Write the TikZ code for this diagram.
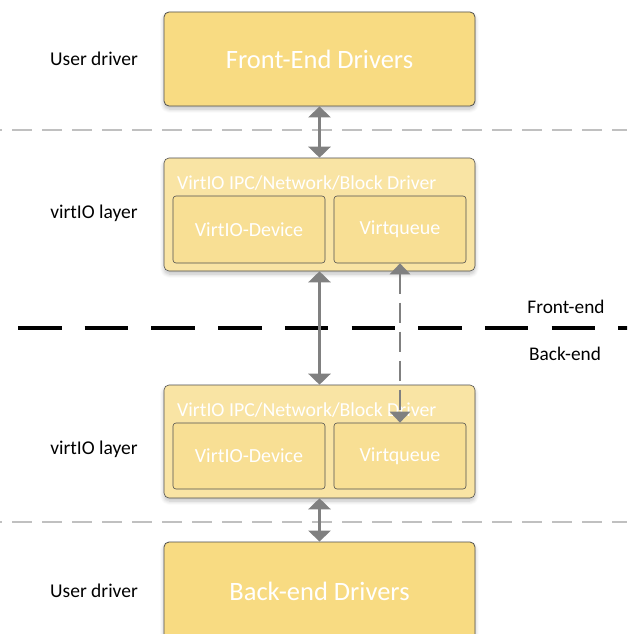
\documentclass[tikz,border=0pt]{standalone}
\usepackage{fontspec}
\setmainfont{Carlito}
\usetikzlibrary{arrows.meta,shadows.blur}
\definecolor{outerfill}{HTML}{F8DB82}
\definecolor{layerfill}{HTML}{F9E4A4}
\definecolor{innerfill}{HTML}{F8DF94}
\definecolor{edge}{HTML}{505050}
\definecolor{arrgray}{HTML}{808080}
\definecolor{sepgray}{HTML}{C0C0C0}
\tikzset{
  bigbox/.style={draw=edge, line width=0.8pt, rounded corners=5pt, fill=outerfill,
    minimum width=311pt, text=white, font=\fontsize{26.5}{30}\selectfont,
    blur shadow={shadow xshift=0pt, shadow yshift=-3pt, shadow blur steps=6, shadow opacity=25, shadow blur radius=4pt}},
  layerbox/.style={draw=edge, line width=0.6pt, rounded corners=5pt, fill=layerfill,
    minimum width=311pt, minimum height=113pt,
    blur shadow={shadow xshift=0pt, shadow yshift=-3pt, shadow blur steps=6, shadow opacity=25, shadow blur radius=4pt}},
  innerbox/.style={draw=edge, line width=0.6pt, rounded corners=3pt, fill=innerfill,
    minimum height=67pt, text=white, font=\fontsize{20}{24}\selectfont},
  titletext/.style={text=white, font=\fontsize{19.8}{24}\selectfont, anchor=west, inner sep=0pt},
  sidelabel/.style={font=\fontsize{19.5}{23}\selectfont, text=black},
  endlabel/.style={font=\fontsize{19.3}{23}\selectfont, text=black},
  arr/.style={draw=arrgray, line width=3pt, {Triangle[width=22pt,length=11pt]}-{Triangle[width=22pt,length=11pt]}},
  dasharr/.style={draw=arrgray, line width=2.8pt, dash pattern=on 20pt off 9pt, {Triangle[width=20pt,length=11pt]}-{Triangle[width=20pt,length=11pt]}},
  sepline/.style={draw=sepgray, line width=2.5pt, dash pattern=on 20pt off 10pt, dash phase=18pt},
  midline/.style={draw=black, line width=3.5pt, dash pattern=on 43.5pt off 23.2pt}
}
\begin{document}
\begin{tikzpicture}[x=1pt,y=-1pt]
\useasboundingbox (0,0) rectangle (627,634);
\begin{scope}
\clip (0,0) rectangle (627,634);
% separators
\coordinate (s1l) at (0,130); \coordinate (s1r) at (627,130);
\coordinate (s2l) at (0,522); \coordinate (s2r) at (627,522);
\coordinate (ml) at (18,328); \coordinate (mr) at (640,328);
\draw[sepline] (s1l) -- (s1r);
\draw[sepline] (s2l) -- (s2r);
\draw[midline] (ml) -- (mr);

% front-end
\node[bigbox, minimum height=94pt] (FE) at (319.5,59) {Front-End Drivers};
% top layer
\node[layerbox] (L1) at (319.5,214.5) {};
\node[titletext] (T1) at (177,183) {VirtIO IPC/Network/Block Driver};
\node[innerbox, minimum width=152pt] (D1) at (249,229.5) {VirtIO-Device};
\node[innerbox, minimum width=132pt] (Q1) at (400,229.5) {Virtqueue};
% bottom layer
\node[layerbox] (L2) at (319.5,441.5) {};
\node[titletext] (T2) at (177,410) {VirtIO IPC/Network/Block Driver};
\node[innerbox, minimum width=152pt, minimum height=66pt] (D2) at (249,456) {VirtIO-Device};
\node[innerbox, minimum width=132pt, minimum height=66pt] (Q2) at (400,456) {Virtqueue};
% back-end
\node[bigbox, minimum height=98pt, text depth=0pt] (BE) at (319.5,591) {Back-end Drivers};

% arrows
\draw[arr] (FE.south) -- (L1.north);
\draw[arr] (L1.south) -- (L2.north);
\draw[arr] (L2.south) -- (BE.north);
\draw[dasharr] (Q1.south) -- (Q2.north);

% labels
\node[sidelabel] (U1) at (94,59) {User driver};
\node[sidelabel] (V1) at (94,213) {virtIO layer};
\node[sidelabel] (V2) at (94,449) {virtIO layer};
\node[sidelabel] (U2) at (94,591) {User driver};
\node[endlabel] (FEl) at (566,307) {Front-end};
\node[endlabel] (BEl) at (565,354) {Back-end};
\end{scope}
\end{tikzpicture}
\end{document}
